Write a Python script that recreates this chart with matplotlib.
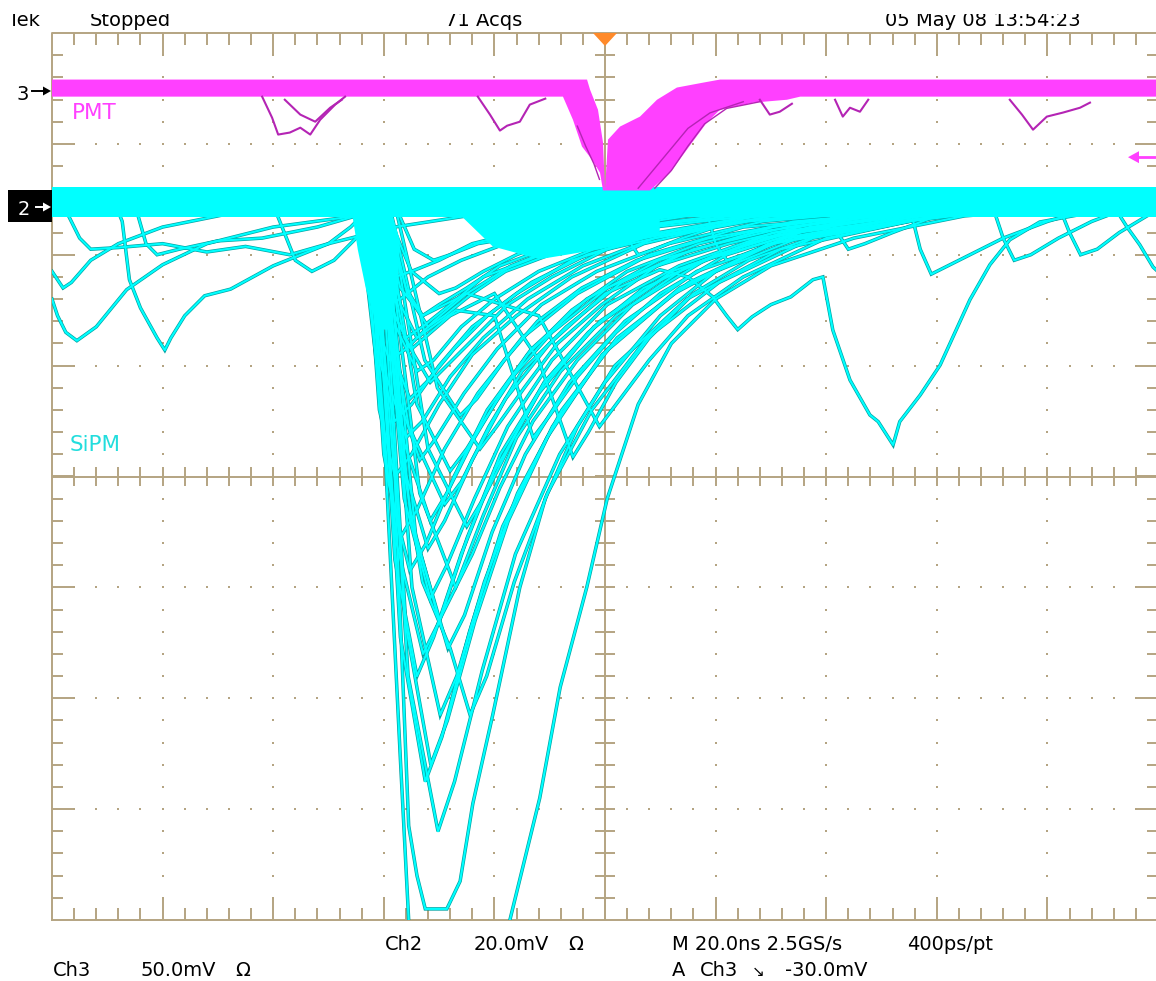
import numpy as np
import matplotlib
matplotlib.use("Agg")
import matplotlib.pyplot as plt
from matplotlib.collections import LineCollection
from matplotlib.patches import Polygon, Rectangle

plt.rcParams['font.family'] = ['DejaVu Sans']

# ---------------- scope settings ----------------
ns_per_div = 20.0
ch2_mv_per_div = 20.0
ch3_mv_per_div = 50.0
ch2_ground_div = 2.45
ch3_ground_div = 3.48
trigger_level_mv = -30.0

header_texts = ["Tek", "Stopped", "71 Acqs", "05 May 08 13:54:23"]
footer_line1 = ["Ch2", "20.0mV", "\u03a9", "M 20.0ns 2.5GS/s", "400ps/pt"]
footer_line2 = ["Ch3", "50.0mV", "\u03a9", "A", "Ch3", "\u2198", "-30.0mV"]
channel_labels = ["PMT", "SiPM"]

# ---------------- Ch3 (PMT) persistence band, ns / mV ----------------
pmt_upper_t = [-100, -3.25, -2.71, -1.27, -0.36, 0.0, 0.54, 2.71, 6.33, 9.4, 13.0, 17.7, 20.8, 100]
pmt_upper_v = [5.0, 5.0, 0.5, -8.6, -23.4, -45.0, -22.1, -16.2, -11.7, -4.1, 1.4, 3.6, 5.0, 5.0]
pmt_lower_t = [-100, -7.6, -5.8, -4.16, -2.35, -0.9, -0.36, 8.14, 11.75, 14.8, 18.4, 20.8, 26.8, 32.9, 35.3, 100]
pmt_lower_v = [-2.7, -2.7, -13.1, -25.2, -31.1, -37.0, -45.0, -45.0, -37.0, -26.6, -14.4, -8.6, -5.4, -4.1, -2.7, -2.7]

pmt_dip_1 = [(-62, -2.7), (-60.2, -12.2), (-59.1, -19.8), (-57, -18.9), (-55.1, -16.7), (-53.3, -19.8), (-51.5, -13.1), (-48.8, -6.3), (-47, -2.7)]
pmt_dip_2 = [(-57.9, -4.1), (-55.1, -10.8), (-52.4, -14.0), (-49.7, -7.7), (-47.6, -4.1)]
pmt_dip_3 = [(-23.0, -2.7), (-20.8, -10.8), (-19.0, -18.0), (-17.7, -15.8), (-15.4, -14.0), (-13.6, -6.3), (-10.8, -3.6)]
pmt_dip_4 = [(73.2, -4.1), (75.4, -10.8), (77.4, -17.6), (79.9, -11.7), (82.8, -9.9), (85.9, -7.7), (87.7, -5.4)]
pmt_dip_5 = [(41.6, -4.1), (43.0, -11.7), (44.3, -7.7), (46.1, -9.5), (47.6, -4.1)]
pmt_dip_6 = [(28.0, -4.1), (29.8, -10.8), (31.6, -9.5), (33.8, -5.9)]
pmt_inner_1 = [(9, -44), (12, -36), (15, -25), (18, -15), (22, -8), (28, -5)]
pmt_inner_2 = [(6, -44), (9, -35), (12, -26), (15, -17), (19, -10), (25, -5)]
pmt_inner_3 = [(-5, -16), (-3.5, -25), (-2, -33), (-1, -40)]

# ---------------- Ch2 (SiPM) baseline band, mV ----------------
sipm_band_t = [-100, 100]
sipm_band_top = [3.2, 3.2]
sipm_band_bottom = [-2.2, -2.2]

# dense (overlapping) persistence areas of the SiPM fan, (ns, mV)
sipm_dense_edges = [(-45.7, -1.8), (-38.5, -1.8), (-37.1, -6.3), (-37.4, -15.3), (-39.2, -22.5),
                    (-41.0, -22.5), (-43.2, -15.3), (-44.7, -8.1)]
sipm_dense_tails = [(-26.0, -2.0), (9.9, -2.0), (9.9, -5.5), (-0.9, -8.0), (-11.8, -9.8),
                    (-20.3, -7.5)]

# ---------------- Ch2 (SiPM) pulses, (ns, mV) ----------------
sipm_01 = [(-44.5, -1), (-40, -40), (-37, -100), (-35.5, -129), (-34, -150), (-30, -175), (-24, -172), (-20, -150), (-17.2, -129), (-11.8, -107), (-8.1, -87), (-3.3, -69), (0.4, -53), (6, -36), (12, -25), (20, -17), (30, -11), (45, -6), (65, -2), (90, 0)]
sipm_02 = [(-42, 0), (-38, -50), (-35.5, -112), (-34, -121), (-32.5, -127), (-28.6, -127), (-26.2, -122), (-23.9, -108), (-20.3, -92), (-15.4, -69), (-10.8, -53), (-5, -40), (0, -32), (10, -20), (20, -12), (35, -6), (55, -2), (80, 0)]
sipm_03 = [(-41, 0), (-35.6, -85), (-30.2, -113), (-27.2, -104), (-22.2, -84), (-16.2, -63), (-8.2, -45), (1.8, -29), (14.8, -17), (31.8, -8), (54.8, -3), (79.8, 0)]
sipm_04 = [(-41.5, 0), (-37, -78), (-32.5, -104), (-29.5, -96), (-24.5, -77), (-18.5, -58), (-10.5, -42), (-0.5, -27), (12.5, -16), (29.5, -7), (52.5, -3), (77.5, 0)]
sipm_05 = [(-40.5, 0), (-36, -76), (-31.5, -101), (-28.5, -93), (-23.5, -75), (-17.5, -57), (-9.5, -40), (0.5, -26), (13.5, -15), (30.5, -7), (53.5, -3), (78.5, 0)]
sipm_06 = [(-40, 0), (-34.9, -69), (-29.8, -92), (-26.8, -85), (-21.8, -68), (-15.8, -52), (-7.8, -37), (2.2, -24), (15.2, -14), (32.2, -6), (55.2, -2), (80.2, 0)]
sipm_07 = [(-39.5, 0), (-36, -50), (-33, -68), (-28, -80), (-24.4, -92), (-21.4, -85), (-16.4, -68), (-10.4, -52), (-2.4, -37), (7.6, -24), (20.6, -14), (37.6, -6), (60.6, -2), (85.6, 0)]
sipm_08 = [(-42.5, 0), (-37.7, -61), (-32.9, -81), (-29.9, -75), (-24.9, -60), (-18.9, -45), (-10.9, -32), (-0.9, -21), (12.1, -12), (29.1, -6), (52.1, -2), (77.1, 0)]
sipm_09 = [(-40, 0), (-34.2, -60), (-28.4, -80), (-25.4, -74), (-20.4, -59), (-14.4, -45), (-6.4, -32), (3.6, -21), (16.6, -12), (33.6, -6), (56.6, -2), (81.6, 0)]
sipm_10 = [(-41, 0), (-36.3, -53), (-31.6, -71), (-28.6, -65), (-23.6, -53), (-17.6, -40), (-9.6, -28), (0.4, -18), (13.4, -11), (30.4, -5), (53.4, -2), (78.4, 0)]
sipm_11 = [(-40, 0), (-33.5, -52), (-27, -69), (-24, -63), (-19, -51), (-13, -39), (-5, -28), (5, -18), (18, -10), (35, -5), (58, -2), (83, 0)]
sipm_12 = [(-43, 0), (-39.2, -50), (-35.3, -66), (-32.3, -61), (-27.3, -49), (-21.3, -37), (-13.3, -26), (-3.3, -17), (9.7, -10), (26.7, -5), (49.7, -2), (74.7, 0)]
sipm_13 = [(-43, 0), (-40, -45), (-37, -60), (-34, -55), (-29, -44), (-23, -34), (-15, -24), (-5, -16), (8, -9), (25, -4), (48, -2), (73, 0)]
sipm_14 = [(-41, 0), (-36.3, -43), (-31.6, -57), (-28.6, -52), (-23.6, -42), (-17.6, -32), (-9.6, -23), (0.4, -15), (13.4, -9), (30.4, -4), (53.4, -1), (78.4, 0)]
sipm_15 = [(-39, 0), (-32, -44), (-25, -58), (-22, -53), (-17, -43), (-11, -32), (-3, -23), (7, -15), (20, -9), (37, -4), (60, -1), (85, 0)]
sipm_16 = [(-42, 0), (-35.5, -40), (-29, -54), (-26, -50), (-21, -40), (-15, -30), (-7, -22), (3, -14), (16, -8), (33, -4), (56, -1), (81, 0)]
sipm_17 = [(-43.5, 0), (-40.8, -37), (-38, -49), (-35, -45), (-30, -36), (-24, -27), (-16, -20), (-6, -13), (7, -7), (24, -3), (47, -1), (72, 0)]
sipm_18 = [(-41, 0), (-37.3, -35), (-33.5, -46), (-30.5, -42), (-25.5, -34), (-19.5, -26), (-11.5, -18), (-1.5, -12), (11.5, -7), (28.5, -3), (51.5, -1), (76.5, 0)]
sipm_19 = [(-40, 0), (-34, -36), (-28, -48), (-25, -44), (-20, -36), (-14, -27), (-6, -19), (4, -12), (17, -7), (34, -3), (57, -1), (82, 0)]
sipm_20 = [(-38, 0), (-30.3, -33), (-22.6, -44), (-19.6, -40), (-14.6, -33), (-8.6, -25), (-0.6, -18), (9.4, -11), (22.4, -7), (39.4, -3), (62.4, -1), (87.4, 0)]
sipm_21 = [(-43, 0), (-40.5, -29), (-38, -39), (-35, -36), (-30, -29), (-24, -22), (-16, -16), (-6, -10), (7, -6), (24, -3), (47, -1), (72, 0)]
sipm_22 = [(-42, 0), (-38.7, -26), (-35.3, -35), (-32.3, -32), (-27.3, -26), (-21.3, -20), (-13.3, -14), (-3.3, -9), (9.7, -5), (26.7, -2), (49.7, -1), (74.7, 0)]
sipm_23 = [(-41, 0), (-36.3, -24), (-31.6, -32), (-28.6, -29), (-23.6, -24), (-17.6, -18), (-9.6, -13), (0.4, -8), (13.4, -5), (30.4, -2), (53.4, -1), (78.4, 0)]
sipm_24 = [(-39, 0), (-32.6, -28), (-26.2, -38), (-23.2, -35), (-18.2, -28), (-12.2, -21), (-4.2, -15), (5.8, -10), (18.8, -6), (35.8, -3), (58.8, -1), (83.8, 0)]
sipm_25 = [(-44, 0), (-41.5, -21), (-39, -28), (-36, -26), (-31, -21), (-25, -16), (-17, -11), (-7, -7), (6, -4), (23, -2), (46, -1), (71, 0)]
sipm_26 = [(-42, 0), (-39, -18), (-36, -24), (-33, -22), (-28, -18), (-22, -13), (-14, -10), (-4, -6), (9, -4), (26, -2), (49, -1), (74, 0)]
sipm_27 = [(-41, 0), (-37, -15), (-33, -20), (-30, -18), (-25, -15), (-19, -11), (-11, -8), (-1, -5), (12, -3), (29, -1), (52, 0)]
sipm_28 = [(-40, 0), (-35, -12), (-30, -16), (-27, -15), (-22, -12), (-16, -9), (-8, -6), (2, -4), (15, -2), (32, -1), (55, 0)]
sipm_29 = [(-43, 0), (-40.5, -10), (-38, -13), (-35, -12), (-30, -10), (-24, -7), (-16, -5), (-6, -3), (7, -2), (24, -1), (47, 0)]
sipm_30 = [(-38, 0), (-34.5, -8), (-31, -10), (-28, -9), (-23, -7), (-17, -6), (-9, -4), (1, -3), (14, -2), (31, -1), (54, 0)]
sipm_31 = [(-41, 0), (-36.5, -47), (-32, -62), (-29, -57), (-24, -46), (-18, -35), (-10, -25), (0, -16), (9.9, -11.7), (15, -13), (19.5, -16.6), (22, -20), (24, -22.5), (26.6, -20.2), (30, -18), (33.6, -16.6), (37.6, -13.5), (39.4, -13), (41.2, -22.6), (44.3, -31.6), (47.9, -37.9), (49.4, -39.1), (52.1, -43.3), (53.3, -39.1), (57, -34.3), (60.6, -28.9), (66, -17.1), (69.6, -10.8), (73.2, -6.3), (78.6, -3.1), (90, -1), (100, 0)]
sipm_32 = [(-42, 0), (-38, -64), (-34, -85), (-31, -78), (-26, -63), (-20, -48), (-12, -34), (-2, -22), (11, -13), (28, -6), (51, -2), (76, 0)]
sipm_33 = [(-40.5, 0), (-35.2, -56), (-30, -75), (-27, -69), (-22, -56), (-16, -42), (-8, -30), (2, -20), (15, -11), (32, -5), (55, -2), (80, 0)]
sipm_34 = [(-43, 0), (-39.5, -31), (-36, -42), (-33, -39), (-28, -31), (-22, -24), (-14, -17), (-4, -11), (9, -6), (26, -3), (49, -1), (74, 0)]
sipm_35 = [(-41.5, 0), (-37.8, -22), (-34, -30), (-31, -28), (-26, -22), (-20, -17), (-12, -12), (-2, -8), (11, -5), (28, -2), (51, -1), (76, 0)]
sipm_36 = [(-39.5, 0), (-35.8, -16), (-32, -22), (-29, -20), (-24, -16), (-18, -12), (-10, -9), (0, -6), (13, -3), (30, -2), (53, 0)]
sipm_37 = [(-44.5, 0), (-42, -13), (-40, -18), (-37, -17), (-32, -13), (-26, -10), (-18, -7), (-8, -5), (5, -3), (22, -1), (45, 0)]
# delayed (after-pulse like) traces
sipm_late_1 = [(-42, 0), (-38, -20), (-35, -26), (-28, -20), (-20, -16), (-12, -28), (-5.8, -45.5), (-3, -41), (2, -32), (8, -24), (16, -16), (26, -10), (40, -5), (60, -2), (80, 0)]
sipm_late_2 = [(-41, 0), (-37, -18), (-34, -24), (-27, -19), (-20, -20), (-13, -42), (-10, -38), (-5, -31), (2, -23), (10, -16), (22, -9), (38, -4), (60, -1), (80, 0)]
sipm_late_3 = [(-40, 0), (-36, -15), (-33, -20), (-25, -16), (-12, -20), (-1, -40), (2, -36), (8, -28), (15, -20), (25, -13), (40, -6), (60, -2), (85, 0)]
# random dark-count pulses
dark_left_1 = [(-100, -17), (-99, -20), (-97.5, -23), (-95.5, -24.5), (-92, -22), (-86.5, -15.3), (-80, -10.8), (-72, -7), (-60, -4), (-45, -2), (-30, 0)]
dark_left_2 = [(-88.5, 0), (-87.3, -3), (-86, -13.5), (-84, -18.6), (-81, -24), (-79.6, -26.2), (-78.5, -24), (-76, -20), (-72.4, -16.4), (-67.7, -15.2), (-60, -11), (-50, -7), (-38, -4), (-25, -2), (-10, 0)]
dark_left_3 = [(-98, 0), (-95, -6), (-93, -8), (-88, -7.7), (-80, -7), (-72, -8.5), (-65, -7.5), (-57, -9), (-50, -7), (-46, -4), (-42, 0)]
dark_left_4 = [(-85, 0), (-83, -7), (-81, -9), (-77, -8), (-70, -6.5), (-62, -6), (-52, -4), (-45, -2), (-40, 0)]
dark_left_5 = [(-100, -12), (-98, -15), (-96.5, -14), (-93, -10), (-88, -7), (-80, -4), (-70, -2), (-60, 0)]
dark_left_6 = [(-60, 0), (-58, -5), (-56, -10), (-53, -12), (-49, -10), (-45, -6), (-42, -3), (-39, 0)]
dark_right_1 = [(2, 0), (4, -6), (6, -9), (9, -8), (14, -6), (20, -4), (30, -2), (40, 0)]
dark_right_2 = [(18, 0), (20, -7), (22, -10), (25, -9), (30, -7), (38, -4), (48, -2), (60, 0)]
dark_right_3 = [(55, 0), (57, -8), (59, -12.5), (62, -11), (66, -9), (72, -6), (80, -3), (90, 0)]
dark_right_4 = [(70, 0), (72, -6), (74, -10), (77, -9), (82, -6), (88, -3), (96, 0)]
dark_right_5 = [(93, -1.8), (94.4, -4), (96.7, -7.2), (99.1, -11.2), (100.5, -12.5)]
dark_right_6 = [(40, 0), (42, -5), (44, -8), (47, -7), (52, -5), (60, -2), (68, 0)]
dark_right_7 = [(82, 0), (84, -5), (86, -9), (89, -8), (93, -5), (98, -2), (100, -1)]

sipm_traces = [sipm_01, sipm_02, sipm_03, sipm_04, sipm_05, sipm_06, sipm_07, sipm_08,
               sipm_09, sipm_10, sipm_11, sipm_12, sipm_13, sipm_14, sipm_15, sipm_16,
               sipm_17, sipm_18, sipm_19, sipm_20, sipm_21, sipm_22, sipm_23, sipm_24,
               sipm_25, sipm_26, sipm_27, sipm_28, sipm_29, sipm_30, sipm_31, sipm_32,
               sipm_33, sipm_34, sipm_35, sipm_36, sipm_37,
               sipm_late_1, sipm_late_2, sipm_late_3,
               dark_left_1, dark_left_2, dark_left_3, dark_left_4, dark_left_5, dark_left_6,
               dark_right_1, dark_right_2, dark_right_3, dark_right_4, dark_right_5,
               dark_right_6, dark_right_7]
pmt_small = [pmt_dip_1, pmt_dip_2, pmt_dip_3, pmt_dip_4, pmt_dip_5, pmt_dip_6]
pmt_inner = [pmt_inner_1, pmt_inner_2, pmt_inner_3]

# ---------------- styles ----------------
W, H, DPI = 1156, 981, 100
TAN = '#B4A482'
CYAN = '#00FFFF'
TEAL = '#00A4A4'
PINK = '#FF40FF'
DPINK = '#B424B4'
ORANGE = '#FF8A2A'

fig = plt.figure(figsize=(W / DPI, H / DPI), dpi=DPI)
fig.patch.set_facecolor('white')
left_px, right_px, top_px, bot_px = 52, 1158, 33, 920
ax = fig.add_axes([left_px / W, 1 - bot_px / H, (right_px - left_px) / W, (bot_px - top_px) / H])
ax.set_xlim(-5 * ns_per_div, 5 * ns_per_div)
ax.set_ylim(-4, 4)
ax.axis('off')


def ch2(v):
    return ch2_ground_div + np.asarray(v, dtype=float) / ch2_mv_per_div


def ch3(v):
    return ch3_ground_div + np.asarray(v, dtype=float) / ch3_mv_per_div


# ---------------- graticule ----------------
lw_g = 1.4
xs_minor = np.arange(-100, 100.01, ns_per_div / 5)
ys_minor = np.arange(-4, 4.001, 0.2)
segs = []
for x in xs_minor[1:-1]:
    major = abs(x / ns_per_div - round(x / ns_per_div)) < 1e-6
    L = 0.2 if major else 0.105
    segs.append([(x, 4), (x, 4 - L)])
    segs.append([(x, -4), (x, -4 + L)])
    segs.append([(x, -0.09), (x, 0.09)])
for y in ys_minor[1:-1]:
    major = abs(y - round(y)) < 1e-6
    L = (0.2 if major else 0.1) * ns_per_div
    segs.append([(-100, y), (-100 + L, y)])
    segs.append([(100, y), (100 - L, y)])
    segs.append([(-1.8, y), (1.8, y)])
segs += [[(-100, 0), (100, 0)], [(0, -4), (0, 4)]]
ax.add_collection(LineCollection(segs, colors=TAN, linewidths=lw_g, zorder=1, clip_on=False))
ax.plot([-100, 100, 100, -100, -100], [-4, -4, 4, 4, -4], color=TAN, lw=lw_g, zorder=1, clip_on=False)

dot_x, dot_y = [], []
for k in range(-4, 5):
    if k == 0:
        continue
    xm = k * ns_per_div
    for y in ys_minor[1:-1]:
        if abs(y) > 1e-6:
            dot_x.append(xm); dot_y.append(y)
for k in range(-3, 4):
    if k == 0:
        continue
    for x in xs_minor[1:-1]:
        if abs(x) > 1e-6:
            dot_x.append(x); dot_y.append(k)
ax.scatter(dot_x, dot_y, s=3.0, marker='s', color=TAN, linewidths=0, zorder=1)

# ---------------- Ch2 SiPM ----------------
for tr in sipm_traces:
    t, v = zip(*tr)
    ax.plot(t, ch2(v), color=TEAL, lw=2.5, zorder=4, solid_joinstyle='miter')
for tr in sipm_traces:
    t, v = zip(*tr)
    ax.plot(t, ch2(v), color=CYAN, lw=1.5, zorder=4.1)
for poly in (sipm_dense_edges, sipm_dense_tails):
    t, v = zip(*poly)
    ax.fill(t, ch2(v), color=CYAN, lw=0, zorder=4.2)
ax.fill_between(sipm_band_t, ch2(sipm_band_top), ch2(sipm_band_bottom), color=CYAN, lw=0, zorder=5)

# ---------------- Ch3 PMT ----------------
poly_t = list(pmt_upper_t) + list(pmt_lower_t[::-1])
poly_v = list(pmt_upper_v) + list(pmt_lower_v[::-1])
ax.fill(poly_t, ch3(poly_v), color=PINK, lw=0, zorder=5.5)
for tr in pmt_small:
    t, v = zip(*tr)
    ax.plot(t, ch3(v), color=DPINK, lw=1.5, zorder=5.6)
for tr in pmt_inner:
    t, v = zip(*tr)
    ax.plot(t, ch3(v), color=DPINK, lw=1.0, zorder=5.6)


# ---------------- text & markers (figure pixel helpers) ----------------
def fx(px):
    return px / W


def fy(py):
    return 1 - py / H


FS = 14
for s, x in zip(header_texts, [8, 90, 445, 885]):
    fig.text(fx(x), fy(26), s, fontsize=FS, color='black', va='baseline', ha='left')
fig.patches.append(Rectangle((0, fy(13.5)), 1, 1 - fy(13.5), transform=fig.transFigure,
                             facecolor='white', edgecolor='none', zorder=20))

for s, x in zip(footer_line1, [385, 474, 568, 672, 907]):
    fig.text(fx(x), fy(950), s, fontsize=FS, color='black', va='baseline', ha='left')
for s, x in zip(footer_line2, [53, 140, 235, 672, 700, 752, 785]):
    fig.text(fx(x), fy(976), s, fontsize=FS if s != "\u2198" else 11, color='black', va='baseline', ha='left')

fig.text(fx(72), fy(119), channel_labels[0], fontsize=15.5, color=PINK, va='baseline', ha='left')
fig.text(fx(70), fy(451), channel_labels[1], fontsize=15.5, color='#22DDDD', va='baseline', ha='left')


def fig_poly(pts, **kw):
    p = Polygon([(fx(a), fy(b)) for a, b in pts], closed=True, transform=fig.transFigure, **kw)
    fig.patches.append(p)


def fig_line(pts, **kw):
    xs = [fx(a) for a, b in pts]
    ys = [fy(b) for a, b in pts]
    fig.add_artist(plt.Line2D(xs, ys, transform=fig.transFigure, **kw))


# channel 3 ground marker
fig.text(fx(17), fy(100), "3", fontsize=FS, color='black', va='baseline', ha='left')
fig_line([(32, 91), (45, 91)], color='black', lw=1.4)
fig_poly([(43, 86.5), (51, 91), (43, 95.5)], facecolor='black', edgecolor='none')

# channel 2 ground marker (black box)
fig_poly([(8, 190), (52, 190), (52, 222), (8, 222)], facecolor='black', edgecolor='none', zorder=6)
fig.text(fx(18), fy(215), "2", fontsize=FS, color='white', va='baseline', ha='left', zorder=7)
fig_line([(36, 207), (45, 207)], color='white', lw=1.4, zorder=7)
fig_poly([(43, 202.5), (51, 207), (43, 211.5)], facecolor='white', edgecolor='none', zorder=7)

# trigger level arrow (Ch3, -30 mV) at right edge
trig_py = top_px + (4 - ch3(trigger_level_mv)) * (bot_px - top_px) / 8
fig_line([(1137, trig_py), (1156, trig_py)], color=PINK, lw=2.0, zorder=8)
fig_poly([(1128, trig_py), (1139, trig_py - 6), (1139, trig_py + 6)], facecolor=PINK, edgecolor='none', zorder=8)

# trigger position marker (orange) at top centre
fig_poly([(593, 33), (617, 33), (605, 46)], facecolor=ORANGE, edgecolor='none', zorder=8)

fig.savefig("out.png", dpi=DPI, facecolor='white')
